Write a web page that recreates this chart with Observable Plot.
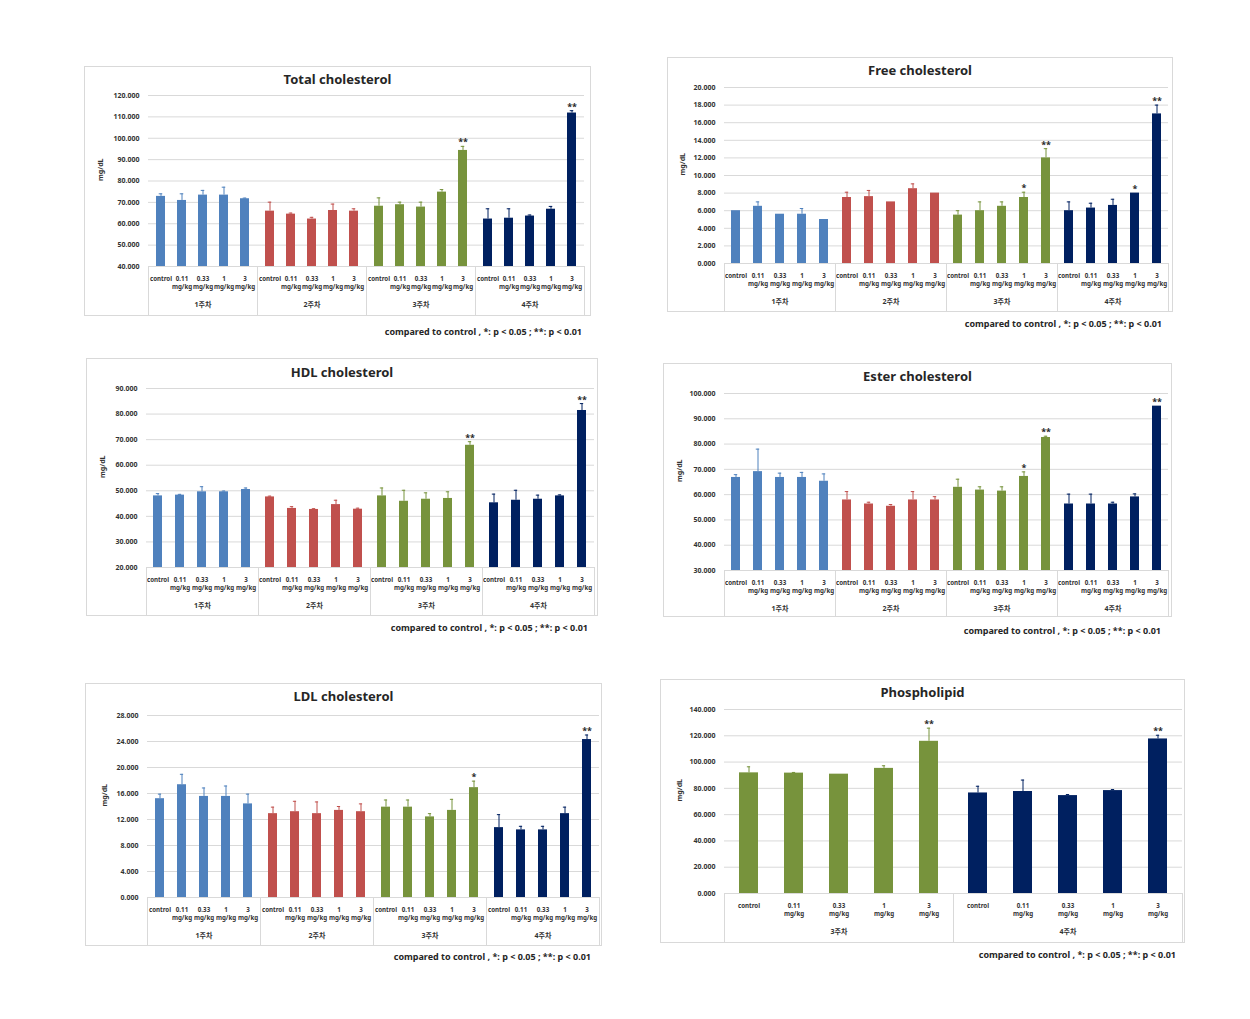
<!DOCTYPE html>
<html><head><meta charset="utf-8">
<script src="https://cdn.jsdelivr.net/npm/d3@7"></script>
<script src="https://cdn.jsdelivr.net/npm/@observablehq/plot@0.6"></script>
<style>
body{margin:0;background:#fff;width:1250px;height:1019px;position:relative;overflow:hidden;font-family:"Noto Sans","Noto Sans CJK KR",sans-serif;}
.box{position:absolute;border:1.5px solid #d9d9d9;box-sizing:border-box;}
.title{position:absolute;font-weight:bold;font-size:13px;text-align:center;color:#262626;line-height:16px;white-space:nowrap}
.note{position:absolute;font-weight:bold;font-size:9px;text-align:right;color:#262626;white-space:nowrap;line-height:12px}
.plot{position:absolute}
</style></head><body>
<script>
// ---------- data ----------
const weeks = ["1주차", "2주차", "3주차", "4주차"];
const doses = ["control", "0.11\nmg/kg", "0.33\nmg/kg", "1\nmg/kg", "3\nmg/kg"];
const weekColors = ["#4f81bd", "#c0504d", "#77933c", "#002060"];
const noteText = "compared to control , *: p < 0.05 ; **: p < 0.01";

const totalMean = [72.8, 70.9, 73.4, 73.4, 71.7, 65.9, 64.5, 62.2, 66.2, 65.9, 68.2, 68.9, 67.8, 74.8, 94.3, 62.2, 62.6, 63.6, 66.8, 111.8];
const totalErr  = [1.2, 3.1, 2.2, 3.7, 0.3, 4.2, 0.5, 0.8, 3.0, 1.1, 3.9, 1.2, 2.3, 1.2, 1.9, 4.8, 4.4, 0.5, 1.3, 1.1];
const totalSig  = ["", "", "", "", "", "", "", "", "", "", "", "", "", "", "**", "", "", "", "", "**"];

const freeMean = [6.0, 6.5, 5.6, 5.6, 5.0, 7.5, 7.6, 7.0, 8.5, 8.0, 5.5, 6.0, 6.5, 7.5, 12.0, 6.0, 6.3, 6.6, 8.0, 17.0];
const freeErr  = [0, 0.5, 0, 0.65, 0, 0.6, 0.7, 0, 0.55, 0, 0.5, 1.0, 0.5, 0.6, 1.05, 1.0, 0.55, 0.7, 0, 1.0];
const freeSig  = ["", "", "", "", "", "", "", "", "", "", "", "", "", "*", "**", "", "", "", "*", "**"];

const hdlMean = [48.0, 48.3, 49.6, 49.6, 50.5, 47.6, 43.1, 42.7, 44.6, 42.8, 48.0, 45.9, 46.7, 47.0, 67.8, 45.3, 46.3, 46.7, 48.0, 81.4];
const hdlErr  = [0.9, 0.3, 2.0, 0.3, 0.6, 0.3, 0.7, 0.3, 1.7, 0.4, 3.1, 4.3, 2.5, 2.6, 1.4, 3.4, 3.9, 1.6, 0.4, 2.7];
const hdlSig  = ["", "", "", "", "", "", "", "", "", "", "", "", "", "", "**", "", "", "", "", "**"];

const esterMean = [66.8, 69.1, 66.8, 66.8, 65.3, 57.9, 56.3, 55.4, 57.9, 57.9, 62.9, 61.8, 61.4, 67.2, 82.6, 56.3, 56.3, 56.3, 59.1, 95.0];
const esterErr  = [1.1, 8.9, 1.7, 2.0, 2.9, 3.3, 0.7, 0.7, 3.3, 1.3, 3.2, 1.3, 1.7, 1.8, 0.5, 3.9, 3.9, 0.7, 1.2, 0];
const esterSig  = ["", "", "", "", "", "", "", "", "", "", "", "", "", "*", "**", "", "", "", "", "**"];

const ldlMean = [15.2, 17.35, 15.55, 15.55, 14.4, 12.9, 13.2, 12.9, 13.4, 13.2, 13.9, 13.9, 12.4, 13.4, 16.9, 10.75, 10.4, 10.4, 12.9, 24.3];
const ldlErr  = [0.7, 1.6, 1.3, 1.6, 1.5, 1.0, 1.6, 1.8, 0.6, 1.2, 1.1, 1.1, 0.5, 1.7, 1.0, 2.0, 0.55, 0.55, 1.0, 0.7];
const ldlSig  = ["", "", "", "", "", "", "", "", "", "", "", "", "", "", "*", "", "", "", "", "**"];

const phosWeeks = ["3주차", "4주차"];
const phosMean = [91.8, 91.6, 90.8, 95.2, 115.8, 76.5, 77.6, 74.5, 78.3, 117.6];
const phosErr  = [4.6, 0.5, 0, 2.0, 10.0, 5.1, 8.7, 0.8, 0.8, 2.8];
const phosSig  = ["", "", "", "", "**", "", "", "", "", "**"];

// ---------- layout (page pixels) ----------
const panels = [
  {title: "Total cholesterol", mean: totalMean, err: totalErr, sig: totalSig, wk: weeks, y: [40, 120, 10],
   box: {x: 84, y: 66, w: 507, h: 250}, plot: {l: 145, r: 584, t: 95, b: 266}, titleY: 79, ylabX: 97, sepB: 314, note: {r: 582, y: 332}},
  {title: "Free cholesterol", mean: freeMean, err: freeErr, sig: freeSig, wk: weeks, y: [0, 20, 2],
   box: {x: 667, y: 57, w: 506, h: 255}, plot: {l: 722, r: 1167, t: 87, b: 263}, titleY: 70, ylabX: 680, sepB: 310, note: {r: 1162, y: 324}},
  {title: "HDL cholesterol", mean: hdlMean, err: hdlErr, sig: hdlSig, wk: weeks, y: [20, 90, 10],
   box: {x: 86, y: 358, w: 512, h: 258}, plot: {l: 144, r: 593, t: 388, b: 567}, titleY: 372, ylabX: 100, sepB: 614, note: {r: 588, y: 628}},
  {title: "Ester cholesterol", mean: esterMean, err: esterErr, sig: esterSig, wk: weeks, y: [30, 100, 10],
   box: {x: 663, y: 363, w: 509, h: 254}, plot: {l: 723, r: 1167, t: 393, b: 570}, titleY: 376, ylabX: 678, sepB: 615, note: {r: 1161, y: 631}},
  {title: "LDL cholesterol", mean: ldlMean, err: ldlErr, sig: ldlSig, wk: weeks, y: [0, 28, 4],
   box: {x: 85, y: 683, w: 517, h: 263}, plot: {l: 145, r: 599, t: 715, b: 897}, titleY: 696, ylabX: 102, sepB: 944, note: {r: 591, y: 957}},
  {title: "Phospholipid", mean: phosMean, err: phosErr, sig: phosSig, wk: phosWeeks, y: [0, 140, 20],
   box: {x: 660, y: 679, w: 525, h: 264}, plot: {l: 722, r: 1181, t: 709, b: 893}, titleY: 692, ylabX: 677, sepB: 942, note: {r: 1176, y: 955}}
];

const FONT = '"Noto Sans","Noto Sans CJK KR",sans-serif';

function addDiv(cls, css, text) {
  const d = document.createElement("div");
  d.className = cls;
  Object.assign(d.style, css);
  if (text != null) d.textContent = text;
  document.body.append(d);
  return d;
}

for (const p of panels) {
  const {box, plot} = p;
  addDiv("box", {left: box.x + "px", top: box.y + "px", width: box.w + "px", height: box.h + "px"});
  addDiv("title", {left: box.x + "px", width: box.w + "px", top: (p.titleY - 8) + "px"}, p.title);
  addDiv("note", {left: (p.note.r - 300) + "px", width: "300px", top: (p.note.y - 6) + "px"}, noteText);

  const data = p.mean.map((m, i) => ({week: p.wk[Math.floor(i / 5)], dose: doses[i % 5], mean: m, err: p.err[i], sig: p.sig[i]}));
  const svgTop = box.y + 20;
  const width = box.w - 2, height = box.y + box.h - svgTop - 2;
  const mL = plot.l - box.x, mR = box.x + box.w - plot.r - 2;
  const mT = plot.t - svgTop, mB = height - (plot.b - svgTop);
  const [y0, y1, ys] = p.y;
  const ticks = d3.range(y0, y1 + ys / 2, ys);
  const bw = (plot.r - plot.l) / p.wk.length / 5 * 0.43;
  const capInset = Math.max(0, (bw - 4) / 2);
  const withErr = data.filter(d => d.err > 0);
  const sepStyle = {stroke: "#d9d9d9", strokeWidth: 1, insetTop: plot.b - plot.t, insetBottom: -(p.sepB - plot.b)};

  const chart = Plot.plot({
    width, height, marginLeft: mL, marginRight: mR, marginTop: mT, marginBottom: mB,
    style: {fontFamily: FONT, fontSize: "7px", fontWeight: "bold", color: "#333", background: "transparent", overflow: "visible"},
    fx: {domain: p.wk, padding: 0, axis: null},
    x: {domain: doses, paddingInner: 0.57, paddingOuter: 0.285},
    y: {domain: [y0, y1]},
    color: {domain: weeks, range: weekColors},
    marks: [
      Plot.gridY({ticks, stroke: "#d9d9d9", strokeOpacity: 1}),
      Plot.axisY({ticks, tickSize: 0, tickPadding: 9, tickFormat: d3.format(".3f"), label: null}),
      Plot.barY(data, {fx: "week", x: "dose", y1: y0, y2: "mean", fill: "week"}),
      Plot.ruleX(withErr, {fx: "week", x: "dose", y1: "mean", y2: d => d.mean + d.err, stroke: "week", strokeWidth: 1}),
      Plot.tickY(withErr, {fx: "week", x: "dose", y: d => d.mean + d.err, stroke: "week", strokeWidth: 1, insetLeft: capInset, insetRight: capInset}),
      Plot.text(data.filter(d => d.sig), {fx: "week", x: "dose", y: d => d.mean + d.err, text: "sig", lineAnchor: "bottom", dy: -1, fontSize: 9, fill: "#262626"}),
      Plot.axisX({tickSize: 0, tickPadding: 9, label: null, lineHeight: 1.3, fontSize: 6.2, fill: "#333"}),
      Plot.text(p.wk, {fx: d => d, text: d => d, frameAnchor: "bottom", dy: 40, fontSize: 7, fill: "#333"}),
      Plot.frame({anchor: "left", ...sepStyle}),
      Plot.frame({anchor: "right", ...sepStyle}),
      Plot.text(["mg/dL"], {fx: () => p.wk[0], text: d => d, frameAnchor: "left", rotate: -90, dx: -(plot.l - p.ylabX), fontSize: 7, fill: "#333"})
    ]
  });
  chart.classList.add("plot");
  chart.style.left = (box.x + 1) + "px";
  chart.style.top = svgTop + "px";
  document.body.append(chart);
}
</script>
</body></html>
